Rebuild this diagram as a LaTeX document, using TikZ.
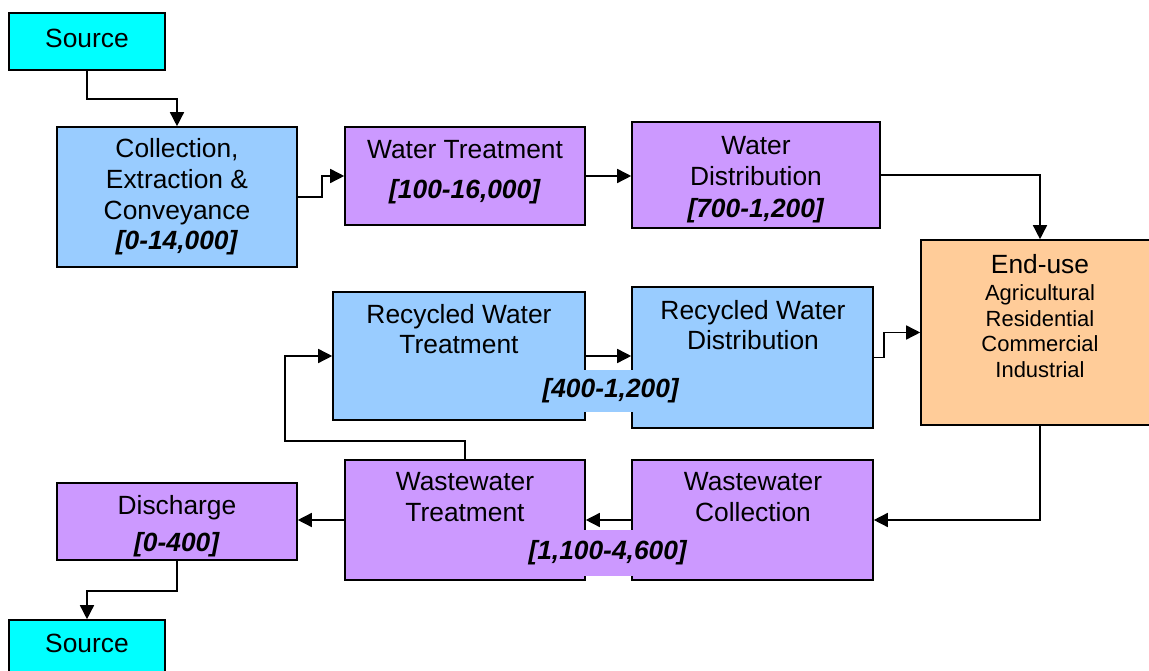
\documentclass[tikz,border=0pt]{standalone}
\usepackage{fontspec}
\setmainfont{Liberation Sans}
\usetikzlibrary{arrows.meta,positioning}

\definecolor{srccyan}{HTML}{00FFFF}
\definecolor{procblue}{HTML}{99CCFF}
\definecolor{procpurple}{HTML}{CC99FF}
\definecolor{useorange}{HTML}{FFCC99}

\newcommand{\rng}[1]{\textbf{\textit{#1}}}

\begin{document}
\begin{tikzpicture}[x=0.02cm, y=-0.02cm,
    every node/.style={font=\fontsize{15}{17.5}\selectfont, align=center},
    box/.style={draw, line width=0.9pt, inner sep=0pt},
    boxsize/.style 2 args={minimum width=#1*0.02cm, minimum height=#2*0.02cm},
    small/.style={font=\fontsize{12.5}{14.5}\selectfont},
    arr/.style={-{Triangle[length=8pt,width=8pt]}, line width=0.85pt},
    rngpatch/.style={fill=#1, inner xsep=4pt, inner ysep=0pt}]
  \clip (0,0) rectangle (1149,671);

  % Supply chain
  \node[box, fill=srccyan, boxsize={156}{57}] (src1) at (87,41.5) {};
  \node (src1-t) at (87,38) {Source};
  \node[box, fill=procblue, boxsize={240}{140}] (collect) at (177,197)
    {Collection,\\Extraction \&\\Conveyance\\\rng{[0-14,000]}};
  \node[box, fill=procpurple, boxsize={240}{98}] (wtreat) at (465,176) {};
  \node (wtreat-t) at (465,172) {Water Treatment\\[5pt]\rng{[100-16,000]}};
  \node[box, fill=procpurple, boxsize={248}{106}] (wdist) at (756,175) {};
  \node (wdist-t) at (756,180) {Water\\Distribution\\[1pt]\rng{[700-1,200]}};

  % End-use
  \node[box, fill=useorange, boxsize={238}{185}] (enduse) at (1040,332.5) {};
  \node[small] (enduse-t) at (1040,316)
    {{\fontsize{15}{17.5}\selectfont End-use}\\[1pt]Agricultural\\Residential\\Commercial\\Industrial};

  % Recycled water
  \node[box, fill=procblue, boxsize={252}{128}] (rwtreat) at (459,356) {};
  \node (rwtreat-t) at (459,329) {Recycled Water\\Treatment};
  \node[box, fill=procblue, boxsize={241}{141}] (rwdist) at (752.5,357.5) {};
  \node (rwdist-t) at (753,325) {Recycled Water\\Distribution};

  % Wastewater
  \node[box, fill=procpurple, boxsize={241}{120}] (wcoll) at (752.5,520) {};
  \node (wcoll-t) at (753,497) {Wastewater\\Collection};
  \node[box, fill=procpurple, boxsize={240}{120}] (wwtreat) at (465,520) {};
  \node (wwtreat-t) at (465,497) {Wastewater\\Treatment};
  \node[box, fill=procpurple, boxsize={240}{77}] (disch) at (177,521.5) {};
  \node (disch-t) at (177,526.5) {Discharge\\[3.5pt]\rng{[0-400]}};
  \node[box, fill=srccyan, boxsize={156}{57}] (src2) at (87,648.5) {};
  \node (src2-t) at (87,643) {Source};

  % Flows
  \coordinate (fb) at (285,441);
  \draw[arr] (src1.south) -- ++(0,28) -| (collect.north);
  \draw[arr] (collect.east) -- ++(24,0) |- (wtreat.west);
  \draw[arr] (wtreat.east) -- (wtreat.east -| wdist.west);
  \draw[arr] (wdist.east) -| (enduse.north);
  \draw[arr] (rwtreat.east) -- (rwtreat.east -| rwdist.west);
  \draw[arr] (rwdist.east) -- ++(10,0) |- (enduse.west);
  \draw[arr] (enduse.south) |- (wcoll.east);
  \draw[arr] (wcoll.west) -- (wcoll.west -| wwtreat.east);
  \draw[arr] (wwtreat.west) -- (wwtreat.west -| disch.east);
  \draw[arr] (disch.south) -- ++(0,30) -| (src2.north);
  \draw[arr] (wwtreat.north) |- (fb) |- (rwtreat.west);

  % Shared ranges, drawn last so they cover the box edges
  \node[rngpatch=procblue, minimum height=42*0.02cm] (rwrng) at (611,391) {\rng{[400-1,200]}};
  \node[rngpatch=procpurple, minimum height=46*0.02cm] (wwrng) at (608,553) {\rng{[1,100-4,600]}};
\end{tikzpicture}
\end{document}
